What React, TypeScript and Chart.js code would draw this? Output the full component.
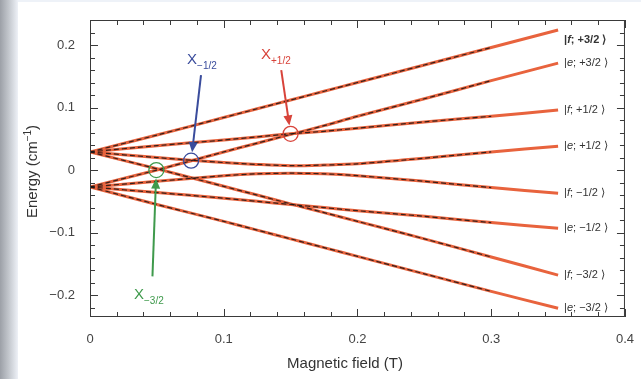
import React, { useEffect, useRef } from "react";
import { Chart, registerables } from "chart.js";

Chart.register(...registerables);

// Magnetic field samples (T)
const fieldB = [0, 0.05, 0.1, 0.125, 0.15, 0.175, 0.2, 0.25, 0.3, 0.35];

// Energy levels (cm^-1)
const levelFp32 = [0.029, 0.056, 0.084, 0.098, 0.112, 0.126, 0.140, 0.168, 0.196, 0.224];
const levelEp32 = [-0.027, 0.0, 0.029, 0.043, 0.057, 0.071, 0.086, 0.114, 0.143, 0.171];
const levelFp12 = [0.029, 0.039, 0.048, 0.053, 0.058, 0.062, 0.067, 0.077, 0.086, 0.096];
const levelEp12 = [0.029, 0.020, 0.012, 0.009, 0.007, 0.008, 0.010, 0.019, 0.029, 0.038];
const levelFm12 = [-0.027, -0.018, -0.009, -0.006, -0.005, -0.006, -0.009, -0.018, -0.028, -0.037];
const levelEm12 = [-0.027, -0.036, -0.045, -0.050, -0.055, -0.060, -0.065, -0.074, -0.084, -0.093];
const levelFm32 = [0.029, 0.002, -0.026, -0.040, -0.054, -0.068, -0.082, -0.110, -0.139, -0.168];
const levelEm32 = [-0.027, -0.055, -0.082, -0.096, -0.110, -0.124, -0.138, -0.166, -0.194, -0.221];

const levels = [levelFp32, levelEp32, levelFp12, levelEp12, levelFm12, levelEm12, levelFm32, levelEm32];

// State labels at the right end: [bra, italic letter, rest]
const stateLabels: [string, string, string][] = [
  ["|", "f", "; +3/2 \u27E9"],
  ["|", "e", "; +3/2 \u27E9"],
  ["|", "f", "; +1/2 \u27E9"],
  ["|", "e", "; +1/2 \u27E9"],
  ["|", "f", "; \u22121/2 \u27E9"],
  ["|", "e", "; \u22121/2 \u27E9"],
  ["|", "f", "; \u22123/2 \u27E9"],
  ["|", "e", "; \u22123/2 \u27E9"],
];

// Anticrossing markers (B, E) and their labels
const crossNames = ["\u22123/2", "\u22121/2", "+1/2"];
const crossB = [0.0496, 0.0756, 0.150];
const crossE = [0.0, 0.015, 0.058];
const crossColors = ["#3f9a4c", "#3a4c9c", "#d8433a"];
const arrowTailB = [0.0467, 0.083, 0.143];
const arrowTailE = [-0.170, 0.152, 0.160];
const labelB = [0.044, 0.0837, 0.139];
const labelE = [-0.203, 0.173, 0.181];

const xTicks = [0, 0.1, 0.2, 0.3, 0.4];
const yTicks = [-0.2, -0.1, 0, 0.1, 0.2];

const dashedEndB = 0.3;

const fmt = (v: number) => {
  if (Math.abs(v) < 1e-9) return "0";
  const s = Math.abs(v).toFixed(1);
  return v < 0 ? "\u2212" + s : s;
};

const FONT = "'Liberation Sans', Arial, Helvetica, sans-serif";

export default function App() {
  const ref = useRef<HTMLCanvasElement | null>(null);

  useEffect(() => {
    document.body.style.margin = "0";
    const canvas = ref.current;
    if (!canvas) return;

    const datasets: any[] = [];
    levels.forEach((lv) => {
      datasets.push({
        data: fieldB.map((b, i) => ({ x: b, y: lv[i] })),
        borderColor: "#e8633d",
        borderWidth: 3,
        pointRadius: 0,
        tension: 0.3,
        order: 2,
      });
    });
    levels.forEach((lv) => {
      datasets.push({
        data: fieldB
          .map((b, i) => ({ x: b, y: lv[i] }))
          .filter((p) => p.x <= dashedEndB + 1e-9),
        borderColor: "rgba(25,20,20,0.85)",
        borderWidth: 1.2,
        borderDash: [5, 3],
        pointRadius: 0,
        tension: 0.3,
        order: 1,
      });
    });

    const deco = {
      id: "deco",
      beforeDraw(chart: any) {
        const c = chart.ctx;
        c.save();
        c.fillStyle = "#ffffff";
        c.fillRect(0, 0, chart.width, chart.height);
        const g = c.createLinearGradient(0, 0, 18, 0);
        g.addColorStop(0, "#9ca0a7");
        g.addColorStop(0.5, "#c4c8ce");
        g.addColorStop(1, "#eef1f7");
        c.fillStyle = g;
        c.fillRect(0, 0, 18, chart.height);
        c.fillStyle = "#eef2f8";
        c.fillRect(18, 0, chart.width - 18, 2);
        c.restore();
      },
      afterDraw(chart: any) {
        const c = chart.ctx;
        const xs = chart.scales.x;
        const ys = chart.scales.y;
        const { left, right, top, bottom } = chart.chartArea;
        c.save();
        // frame
        c.strokeStyle = "#3a3a3a";
        c.lineWidth = 1;
        c.strokeRect(left + 0.5, top + 0.5, right - left - 1, bottom - top - 1);
        // inward ticks
        c.beginPath();
        for (let k = 0; k <= 20; k++) {
          const v = k * 0.02;
          const px = Math.round(xs.getPixelForValue(v)) + 0.5;
          const len = k % 5 === 0 ? 8 : 5;
          c.moveTo(px, bottom);
          c.lineTo(px, bottom - len);
          c.moveTo(px, top);
          c.lineTo(px, top + len);
        }
        for (let k = -11; k <= 12; k++) {
          const v = k * 0.02;
          if (v < ys.min || v > ys.max) continue;
          const py = Math.round(ys.getPixelForValue(v)) + 0.5;
          const len = k % 5 === 0 ? 8 : 5;
          c.moveTo(left, py);
          c.lineTo(left + len, py);
          c.moveTo(right, py);
          c.lineTo(right - len, py);
        }
        c.stroke();

        // axis titles
        c.fillStyle = "#333";
        c.font = `15px ${FONT}`;
        c.textAlign = "center";
        c.textBaseline = "middle";
        c.fillText("Magnetic field (T)", 345, 364);
        c.save();
        c.translate(33, (top + bottom) / 2 + 3);
        c.rotate(-Math.PI / 2);
        const t1 = "Energy (cm";
        const t2 = "\u22121";
        const t3 = ")";
        c.font = `15px ${FONT}`;
        const w1 = c.measureText(t1).width;
        const w3 = c.measureText(t3).width;
        c.font = `10px ${FONT}`;
        const w2 = c.measureText(t2).width;
        const tot = w1 + w2 + w3;
        c.textAlign = "left";
        c.font = `15px ${FONT}`;
        c.fillText(t1, -tot / 2, 0);
        c.font = `10px ${FONT}`;
        c.fillText(t2, -tot / 2 + w1, -5);
        c.font = `15px ${FONT}`;
        c.fillText(t3, -tot / 2 + w1 + w2, 0);
        c.restore();

        // state labels
        const endIdx = fieldB.length - 1;
        stateLabels.forEach((parts, i) => {
          const lx = xs.getPixelForValue(fieldB[endIdx]) + 6;
          let ly = ys.getPixelForValue(levels[i][endIdx]);
          ly = Math.max(ly, top + 20);
          ly = Math.min(ly, bottom - 8);
          const bold = i === 0 ? "bold " : "";
          c.fillStyle = "#333";
          c.textAlign = "left";
          c.textBaseline = "middle";
          let x = lx;
          c.font = `${bold}11px ${FONT}`;
          c.fillText(parts[0], x, ly);
          x += c.measureText(parts[0]).width;
          c.font = `italic ${bold}11px ${FONT}`;
          c.fillText(parts[1], x, ly);
          x += c.measureText(parts[1]).width;
          c.font = `${bold}11px ${FONT}`;
          c.fillText(parts[2], x, ly);
        });

        // anticrossing markers
        crossB.forEach((b, i) => {
          const cx = xs.getPixelForValue(b);
          const cy = ys.getPixelForValue(crossE[i]);
          c.strokeStyle = crossColors[i];
          c.lineWidth = 1.3;
          c.beginPath();
          c.arc(cx, cy, 7.5, 0, Math.PI * 2);
          c.stroke();
          // arrow
          const tx = xs.getPixelForValue(arrowTailB[i]);
          const ty = ys.getPixelForValue(arrowTailE[i]);
          const dx = cx - tx;
          const dy = cy - ty;
          const d = Math.hypot(dx, dy);
          const ux = dx / d;
          const uy = dy / d;
          const hx = cx - ux * 8.5;
          const hy = cy - uy * 8.5;
          const headLen = 10;
          const bx = hx - ux * headLen;
          const by = hy - uy * headLen;
          c.lineWidth = 2;
          c.beginPath();
          c.moveTo(tx, ty);
          c.lineTo(bx + ux * 2, by + uy * 2);
          c.stroke();
          c.fillStyle = crossColors[i];
          c.beginPath();
          c.moveTo(hx, hy);
          c.lineTo(bx - uy * 4.5, by + ux * 4.5);
          c.lineTo(bx + uy * 4.5, by - ux * 4.5);
          c.closePath();
          c.fill();
          // label
          const lx = xs.getPixelForValue(labelB[i]);
          const ly = ys.getPixelForValue(labelE[i]);
          c.font = `15px ${FONT}`;
          const wx = c.measureText("X").width;
          c.font = `10px ${FONT}`;
          const ws = c.measureText(crossNames[i]).width;
          const start = lx - (wx + ws) / 2;
          c.textAlign = "left";
          c.textBaseline = "middle";
          c.font = `15px ${FONT}`;
          c.fillText("X", start, ly - 2);
          c.font = `10px ${FONT}`;
          c.fillText(crossNames[i], start + wx, ly + 4);
        });
        c.restore();
      },
    };

    const chart = new Chart(canvas, {
      type: "line",
      data: { datasets },
      options: {
        animation: false,
        responsive: false,
        layout: { padding: { top: 20, right: 11, left: 0, bottom: 0 } },
        plugins: { legend: { display: false }, tooltip: { enabled: false } },
        scales: {
          x: {
            type: "linear",
            min: 0,
            max: 0.4,
            grid: { display: false },
            border: { display: false },
            afterBuildTicks: (s: any) => {
              s.ticks = xTicks.map((v) => ({ value: v }));
            },
            afterFit: (s: any) => {
              s.height = 62;
            },
            ticks: {
              padding: 7,
              color: "#444",
              font: { size: 13, family: FONT },
              maxRotation: 0,
              callback: (v: any) => fmt(Number(v)),
            },
          },
          y: {
            type: "linear",
            min: -0.235,
            max: 0.24,
            grid: { display: false },
            border: { display: false },
            afterBuildTicks: (s: any) => {
              s.ticks = yTicks.map((v) => ({ value: v }));
            },
            afterFit: (s: any) => {
              s.width = 90;
            },
            ticks: {
              padding: 7,
              color: "#444",
              font: { size: 13, family: FONT },
              callback: (v: any) => fmt(Number(v)),
            },
          },
        },
      },
      plugins: [deco],
    } as any);

    return () => chart.destroy();
  }, []);

  return (
    <div style={{ width: 641, height: 379 }}>
      <canvas ref={ref} width={641} height={379} style={{ display: "block" }} />
    </div>
  );
}
